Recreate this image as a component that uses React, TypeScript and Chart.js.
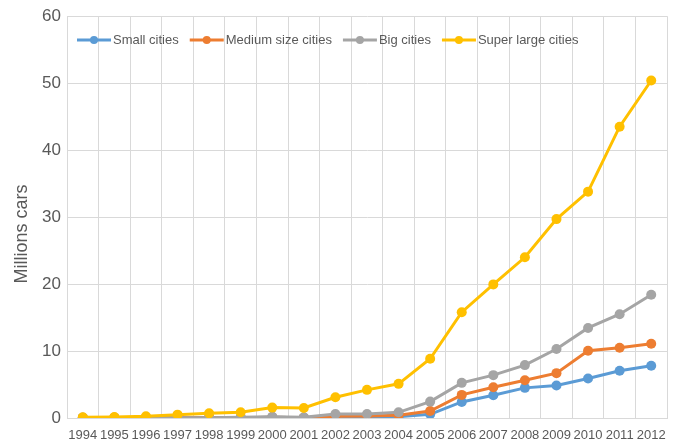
import React, { useEffect, useRef } from "react";
import { Chart, registerables } from "chart.js";

Chart.register(...registerables);

const years = ["1994","1995","1996","1997","1998","1999","2000","2001","2002","2003","2004","2005","2006","2007","2008","2009","2010","2011","2012"];
const smallCities = [0.05,0.05,0.05,0.05,0.05,0.05,0.1,0.05,0.1,0.15,0.2,0.55,2.4,3.4,4.5,4.85,5.9,7.05,7.8];
const mediumCities = [0.05,0.05,0.05,0.05,0.05,0.05,0.1,0.05,0.25,0.3,0.4,1.05,3.45,4.6,5.65,6.7,10.05,10.5,11.1];
const bigCities = [0.05,0.05,0.05,0.05,0.05,0.1,0.2,0.1,0.6,0.6,0.85,2.45,5.25,6.4,7.9,10.3,13.45,15.5,18.4];
const superLargeCities = [0.1,0.15,0.25,0.5,0.7,0.85,1.55,1.5,3.1,4.2,5.1,8.85,15.8,19.95,24.0,29.7,33.8,43.5,50.4];
const seriesNames = ["Small cities","Medium size cities","Big cities","Super large cities"];
const seriesColors = ["#5B9BD5","#ED7D31","#A5A5A5","#FFC000"];
const yTitle = "Millions cars";

const FONT = '"Liberation Sans", Arial, Helvetica, sans-serif';
const TEXT = "#595959";
const GRID = "#d9d9d9";

const overlayPlugin = {
  id: "overlay",
  afterDraw(chart: any) {
    const ctx = chart.ctx;
    ctx.save();
    ctx.fillStyle = TEXT;
    ctx.font = `18px ${FONT}`;
    ctx.textAlign = "center";
    ctx.textBaseline = "middle";
    ctx.translate(22, 234);
    ctx.rotate(-Math.PI / 2);
    ctx.fillText(yTitle, 0, 0);
    ctx.restore();

    ctx.save();
    ctx.font = `13px ${FONT}`;
    ctx.textBaseline = "middle";
    ctx.textAlign = "left";
    let x = 77;
    const y = 40;
    const lineLen = 34;
    chart.data.datasets.forEach((ds: any, i: number) => {
      const color = seriesColors[i];
      ctx.strokeStyle = color;
      ctx.lineWidth = 3;
      ctx.beginPath();
      ctx.moveTo(x, y);
      ctx.lineTo(x + lineLen, y);
      ctx.stroke();
      ctx.fillStyle = color;
      ctx.beginPath();
      ctx.arc(x + lineLen / 2, y, 4, 0, Math.PI * 2);
      ctx.fill();
      const tx = x + lineLen + 2;
      ctx.fillStyle = TEXT;
      ctx.fillText(ds.label, tx, y + 0.5);
      x = tx + ctx.measureText(ds.label).width + 11;
    });
    ctx.restore();
  },
};

export default function App() {
  const ref = useRef<HTMLCanvasElement>(null);
  useEffect(() => {
    if (!ref.current) return;
    const values = [smallCities, mediumCities, bigCities, superLargeCities];
    const chart = new Chart(ref.current, {
      type: "line",
      data: {
        labels: years,
        datasets: values.map((v, i) => ({
          label: seriesNames[i],
          data: v,
          borderColor: seriesColors[i],
          backgroundColor: seriesColors[i],
          pointBackgroundColor: seriesColors[i],
          pointBorderColor: seriesColors[i],
          borderWidth: 3,
          pointRadius: 5,
          pointBorderWidth: 0,
          tension: 0,
          order: 3 - i,
        })),
      },
      options: {
        animation: false,
        responsive: false,
        devicePixelRatio: 1,
        layout: { padding: { left: 0, top: 16, right: 10, bottom: 0 } },
        plugins: { legend: { display: false }, tooltip: { enabled: false } },
        scales: {
          x: {
            type: "category",
            offset: true,
            grid: { offset: true, color: GRID, lineWidth: 1, drawTicks: false },
            border: { color: GRID },
            ticks: {
              font: { family: FONT, size: 13 },
              color: TEXT,
              padding: 10,
              maxRotation: 0,
              autoSkip: false,
            },
            afterFit: (s: any) => { s.height = 27; },
          },
          y: {
            min: 0,
            max: 60,
            grid: { color: GRID, lineWidth: 1, drawTicks: false },
            border: { color: GRID },
            ticks: {
              stepSize: 10,
              font: { family: FONT, size: 17 },
              color: TEXT,
              padding: 6,
            },
            afterFit: (s: any) => { s.width = 67; },
          },
        },
      },
      plugins: [overlayPlugin],
    });
    return () => chart.destroy();
  }, []);
  return (
    <div style={{ position: "fixed", left: 0, top: 0, width: 677, height: 445, background: "#fff" }}>
      <canvas ref={ref} width={677} height={445} style={{ display: "block" }} />
    </div>
  );
}
